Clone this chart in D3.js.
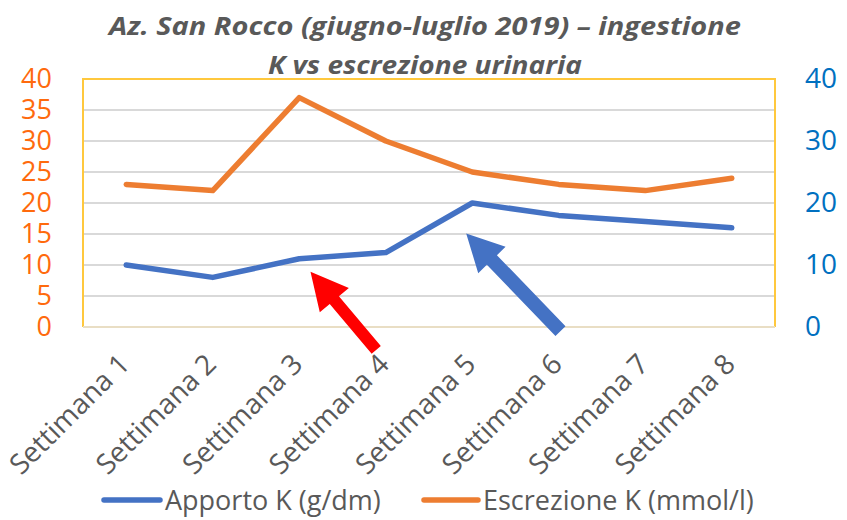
<!DOCTYPE html>
<html><head><meta charset="utf-8">
<script src="https://cdn.jsdelivr.net/npm/d3@7"></script>
<style>body{margin:0;background:#fff}svg{display:block}</style>
</head><body>
<svg id="c" width="847" height="520"></svg>
<script>
const categories = ["Settimana 1","Settimana 2","Settimana 3","Settimana 4","Settimana 5","Settimana 6","Settimana 7","Settimana 8"];
const apporto = [10, 8, 11, 12, 20, 18, 17, 16];
const escrezione = [23, 22, 37, 30, 25, 23, 22, 24];
const leftTicks = [0,5,10,15,20,25,30,35,40];
const rightTicks = [0,10,20,30,40];
const seriesNames = ["Apporto K (g/dm)", "Escrezione K (mmol/l)"];
const titleLines = ["Az. San Rocco (giugno-luglio 2019) – ingestione", "K vs escrezione urinaria"];
// annotation arrows in data space: [category index, value] tail -> tip
const arrowsData = [
  {tail:[2.89,-3.7], tip:[2.13,8.9], color:"#FF0000", shaft:12},
  {tail:[5.02,-0.65], tip:[3.93,15.1], color:"#4472C4", shaft:14}
];

const svg = d3.select("#c");
const L=83, R=775, T=79, B=327;
const x = d3.scalePoint().domain(categories).range([L,R]).padding(0.5);
const yL = d3.scaleLinear().domain([0,40]).range([B,T]);
const yR = d3.scaleLinear().domain([0,40]).range([B,T]);
const xi = i => x(categories[0]) + i*x.step();

// title
svg.selectAll("text.title").data(titleLines).join("text")
  .attr("class","title")
  .attr("x",425).attr("y",(d,i)=>35+i*39)
  .attr("text-anchor","middle")
  .attr("font-family","Open Sans").attr("font-weight","bold").attr("font-style","italic")
  .attr("font-size",25).attr("fill","#595959")
  .attr("textLength",(d,i)=>i===0?632:314).attr("lengthAdjust","spacingAndGlyphs")
  .text(d=>d);

// gridlines
svg.append("g").selectAll("line").data(leftTicks.filter(v=>v>0&&v<40)).join("line")
  .attr("x1",L).attr("x2",R).attr("y1",d=>yL(d)).attr("y2",d=>yL(d))
  .attr("stroke","#D9D9D9").attr("stroke-width",2);

// plot border
svg.append("path").attr("d",`M${L},${B}V${T}H${R}V${B}`).attr("fill","none")
  .attr("stroke","#FFC83D").attr("stroke-width",2);
svg.append("line").attr("x1",L).attr("x2",R).attr("y1",B).attr("y2",B)
  .attr("stroke","#E9DEC4").attr("stroke-width",2);

// axes
const ga = svg.append("g").attr("transform",`translate(${L},0)`)
  .call(d3.axisLeft(yL).tickValues(leftTicks).tickSize(0).tickPadding(31));
ga.select(".domain").remove();
ga.selectAll("text").attr("font-family","Open Sans").attr("font-size",27).attr("fill","#FF6A0D");
const gr = svg.append("g").attr("transform",`translate(${R},0)`)
  .call(d3.axisRight(yR).tickValues(rightTicks).tickSize(0).tickPadding(30));
gr.select(".domain").remove();
gr.selectAll("text").attr("font-family","Open Sans").attr("font-size",28).attr("fill","#0070C0");

// category labels
svg.append("g").selectAll("text").data(categories).join("text")
  .attr("transform",d=>`translate(${x(d)+5},366) rotate(-45)`)
  .attr("text-anchor","end")
  .attr("font-family","Open Sans").attr("font-size",28).attr("fill","#595959")
  .text(d=>d);

// lines
const line = yScale => d3.line().x((d,i)=>x(categories[i])).y(d=>yScale(d));
svg.append("path").datum(escrezione).attr("d",line(yL)).attr("fill","none")
  .attr("stroke","#ED7D31").attr("stroke-width",5.5).attr("stroke-linejoin","round").attr("stroke-linecap","round");
svg.append("path").datum(apporto).attr("d",line(yR)).attr("fill","none")
  .attr("stroke","#4472C4").attr("stroke-width",5.5).attr("stroke-linejoin","round").attr("stroke-linecap","round");

// arrows
arrowsData.forEach(a=>{
  const tx=xi(a.tail[0]), ty=yL(a.tail[1]), px=xi(a.tip[0]), py=yL(a.tip[1]);
  const len=Math.hypot(px-tx,py-ty), ux=(px-tx)/len, uy=(py-ty)/len, nx=-uy, ny=ux;
  const hl=37, hw=38, sw=a.shaft;
  const bx=px-ux*hl, by=py-uy*hl;
  const pts=[[tx+nx*sw/2,ty+ny*sw/2],[bx+nx*sw/2,by+ny*sw/2],[bx+nx*hw/2,by+ny*hw/2],[px,py],
    [bx-nx*hw/2,by-ny*hw/2],[bx-nx*sw/2,by-ny*sw/2],[tx-nx*sw/2,ty-ny*sw/2]];
  svg.append("polygon").attr("points",pts.map(p=>p.join(",")).join(" ")).attr("fill",a.color);
});

// legend
const leg = [{n:seriesNames[0],c:"#4472C4",x1:104,x2:160,tx:165},{n:seriesNames[1],c:"#ED7D31",x1:424,x2:478,tx:483}];
leg.forEach(l=>{
  svg.append("line").attr("x1",l.x1).attr("x2",l.x2).attr("y1",500).attr("y2",500)
    .attr("stroke",l.c).attr("stroke-width",5.5).attr("stroke-linecap","round");
  svg.append("text").attr("x",l.tx).attr("y",510).attr("font-family","Open Sans").attr("font-size",27)
    .attr("fill","#595959").text(l.n);
});
</script>
</body></html>
